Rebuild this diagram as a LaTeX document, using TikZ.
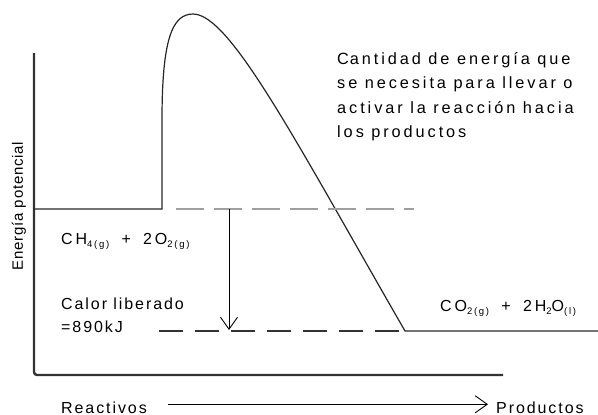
\documentclass[tikz,border=0pt]{standalone}
\usepackage{fontspec}
\setmainfont{Liberation Sans}
\newfontfamily\spacedfont[LetterSpace=18]{Liberation Sans}
\newfontfamily\midfont[LetterSpace=12]{Liberation Sans}
\newfontfamily\tightfont[LetterSpace=5]{Liberation Sans}
\usetikzlibrary{arrows.meta, positioning}
\newcommand{\chsub}[1]{\raisebox{-3pt}{\fontsize{9.5}{9.5}\selectfont #1}}
\newcommand{\plussign}{\hspace{5pt} + \hspace{5pt}}
\tikzset{
  axisline/.style = {line width=2.4pt, draw=black!80, rounded corners=3pt},
  energy/.style   = {line width=1.2pt, black!85},
  dline/.style    = {line width=1.8pt, gray!75, dash pattern=on 28pt off 10pt},
  dlow/.style     = {line width=1.3pt, black!80, dash pattern=on 24pt off 12pt},
  arr/.style      = {-{Straight Barb[length=12pt,width=17pt]}, line width=0.9pt},
}

\begin{document}
\begin{tikzpicture}[
  x=1pt, y=-1pt,
  lbl/.style={inner sep=0pt, align=left, text=black},
]
  \useasboundingbox (0,0) rectangle (598,415);

  % axes
  \draw[axisline] (34,53) -- (34,375) -- (503,375);

  % energy profile
  \draw[energy] (34,209) -- (162,209) -- (162,120)
    .. controls (162,40) and (172,14) .. (193,14)
    .. controls (230,14) and (295,140) .. (405,331) -- (598,331);

  % reference levels
  \draw[dline] (176,209) -- (414,209);
  \draw[dlow] (159,331) -- (404,331);

  \coordinate (hitop) at (229,209);
  \coordinate (hibot) at (229,330);
  \draw[arr] (hitop) -- (hibot);

  \node[lbl, rotate=90, font=\tightfont\fontsize{15}{17}\selectfont] (ylab) at (19,206) {Energía potencial};

  \node[lbl, anchor=north west, font=\spacedfont\fontsize{16.3}{24.5}\selectfont] (note) at (337,52)
    {C\kern1pt antidad de energía que\\se necesita para llevar o\\activar la reacción hacia\\los productos};

  \node[lbl, anchor=base west, font=\spacedfont\fontsize{16}{18}\selectfont] (reac) at (61,244)
    {CH\chsub{4(g)}\plussign{}2O\chsub{2(g)}};
  \node[lbl, anchor=north west, font=\midfont\fontsize{16}{23}\selectfont] (heat) at (61,298)
    {Calor liberado\\=890kJ};
  \node[lbl, anchor=base west, font=\spacedfont\fontsize{16}{18}\selectfont] (prod) at (440,311)
    {CO\chsub{2(g)}\plussign{}2H\chsub{2}O\chsub{(l)}};

  \node[lbl, anchor=base west, font=\midfont\fontsize{16}{18}\selectfont] (xl) at (61,413) {Reactivos};
  \node[lbl, anchor=base west, font=\midfont\fontsize{16}{18}\selectfont] (xr) at (496,413) {Productos};
  \draw[arr] ([xshift=21pt, yshift=3pt]xl.east) -- ([xshift=-8pt, yshift=3pt]xr.west);
\end{tikzpicture}
\end{document}
